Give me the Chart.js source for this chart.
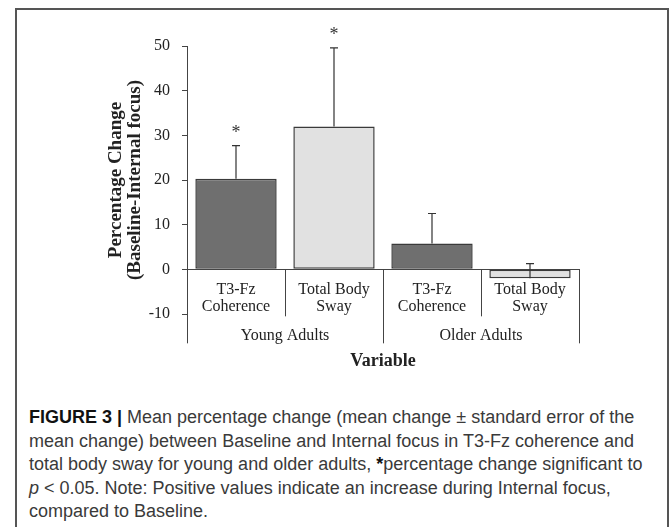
<!DOCTYPE html>
<html>
<head>
<meta charset="utf-8">
<script src="https://cdn.jsdelivr.net/npm/chart.js@4.4.0/dist/chart.umd.min.js"></script>
<style>
  html, body { margin: 0; padding: 0; background: #fff; }
  body { width: 670px; height: 527px; position: relative; overflow: hidden; }
  .frame { position: absolute; left: 15px; top: 8px; width: 654px; height: 540px; border: 2px solid #555; border-bottom: none; box-sizing: border-box; }
  #chart { position: absolute; left: 0; top: 0; }
  .caption { position: absolute; left: 29px; top: 406px; width: 636px; font-family: "Liberation Sans", Arial, sans-serif; font-size: 18px; line-height: 23.5px; color: #3a3a3a; white-space: nowrap; }
  .caption b { color: #111; }
</style>
</head>
<body>
<div class="frame"></div>
<canvas id="chart" width="670" height="400"></canvas>
<div class="caption">
  <b>FIGURE 3 |</b> Mean percentage change (mean change ± standard error of the<br>
  mean change) between Baseline and Internal focus in T3-Fz coherence and<br>
  total body sway for young and older adults, <b>*</b>percentage change significant to<br>
  <i>p</i> &lt; 0.05. Note: Positive values indicate an increase during Internal focus,<br>
  compared to Baseline.
</div>
<script>
// ---- data ----
const categories = [['T3-Fz', 'Coherence'], ['Total Body', 'Sway'], ['T3-Fz', 'Coherence'], ['Total Body', 'Sway']];
const groups = ['Young Adults', 'Older Adults'];
const meanChange = [20.3, 32.0, 5.8, -2.0];
const errorUp = [7.4, 17.6, 6.7, 3.3];
const significant = [true, true, false, false];
const yMin = -10;
const yMax = 50;
const yStep = 10;

const serif = '"Liberation Serif", "Times New Roman", serif';
const ink = '#333';

// error bars, asterisks, group labels
const decorations = {
  id: 'decorations',
  afterDatasetsDraw(chart) {
    const ctx = chart.ctx;
    const y = chart.scales.y;
    const meta = chart.getDatasetMeta(0);
    ctx.save();
    ctx.strokeStyle = ink;
    ctx.lineWidth = 1.2;
    meta.data.forEach((bar, i) => {
      const top = y.getPixelForValue(meanChange[i] + errorUp[i]);
      const base = y.getPixelForValue(meanChange[i]);
      ctx.beginPath();
      ctx.moveTo(bar.x, base);
      ctx.lineTo(bar.x, top);
      ctx.moveTo(bar.x - 4, top);
      ctx.lineTo(bar.x + 4, top);
      ctx.stroke();
      if (significant[i]) {
        ctx.fillStyle = ink;
        ctx.font = '18px ' + serif;
        ctx.textAlign = 'center';
        ctx.textBaseline = 'alphabetic';
        ctx.fillText('*', bar.x, top - 8);
      }
    });
    ctx.restore();
  },
  afterDraw(chart) {
    const ctx = chart.ctx;
    const x = chart.scales.x;
    const y = chart.scales.y;
    const area = chart.chartArea;
    const zero = y.getPixelForValue(0);
    ctx.save();
    ctx.strokeStyle = '#444';
    ctx.lineWidth = 1;
    // divider lines of the two level category axis
    const edges = [area.left];
    for (let i = 0; i < categories.length - 1; i++) {
      edges.push((x.getPixelForValue(i) + x.getPixelForValue(i + 1)) / 2);
    }
    edges.push(area.right);
    edges.forEach((ex, i) => {
      const long = i % 2 === 0;
      const px = Math.round(ex) + 0.5;
      ctx.beginPath();
      ctx.moveTo(px, zero);
      ctx.lineTo(px, zero + (long ? 74 : 47));
      ctx.stroke();
    });
    ctx.fillStyle = '#222';
    ctx.textAlign = 'center';
    ctx.textBaseline = 'middle';
    ctx.font = '16px ' + serif;
    groups.forEach((g, i) => {
      ctx.fillText(g, (edges[i * 2] + edges[i * 2 + 2]) / 2, zero + 66);
    });
    ctx.font = 'bold 18px ' + serif;
    ctx.fillText('Variable', (area.left + area.right) / 2, zero + 92);
    ctx.restore();
  }
};

new Chart(document.getElementById('chart'), {
  type: 'bar',
  data: {
    labels: categories,
    datasets: [
      {
        data: meanChange,
        backgroundColor: ['#6f6f6f', '#e1e1e1', '#6f6f6f', '#e1e1e1'],
        borderColor: '#3a3a3a',
        borderWidth: 1.5,
        borderSkipped: false,
        barPercentage: 0.83,
        categoryPercentage: 1,
      },
    ],
  },
  options: {
    responsive: false,
    animation: false,
    events: [],
    layout: { padding: { left: 107, top: 46, right: 91, bottom: 86 } },
    plugins: { legend: { display: false }, tooltip: { enabled: false } },
    scales: {
      x: {
        type: 'category',
        position: { y: 0 },
        offset: true,
        grid: { display: false, drawTicks: false },
        border: { display: true, color: '#444', width: 1 },
        ticks: { color: '#222', font: { family: serif, size: 16, lineHeight: 1.07 }, padding: 12, maxRotation: 0, autoSkip: false },
        afterFit: (scale) => { scale.height = 0; },
      },
      y: {
        min: yMin,
        max: yMax,
        ticks: { stepSize: yStep, color: '#222', font: { family: serif, size: 16 }, padding: 12 },
        grid: { drawOnChartArea: false, drawTicks: true, tickLength: 5, color: '#444' },
        border: { display: true, color: '#444', width: 1 },
        title: {
          display: true,
          text: ['Percentage Change', '(Baseline-Internal focus)'],
          color: '#222',
          font: { family: serif, size: 19, weight: 'bold', lineHeight: 1 },
          padding: 0,
        },
        afterFit: (scale) => { scale.width = 80; },
      },
    },
  },
  plugins: [decorations],
});
</script>
</body>
</html>
